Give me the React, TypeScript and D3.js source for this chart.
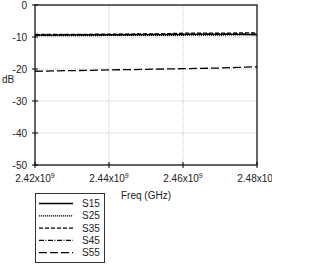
import React from "react";
import * as d3 from "d3";

const freqs = [2.42, 2.425, 2.43, 2.435, 2.44, 2.445, 2.45, 2.455, 2.46, 2.465, 2.47, 2.475, 2.48];
const s15 = [-9.4, -9.4, -9.35, -9.3, -9.3, -9.3, -9.25, -9.25, -9.2, -9.2, -9.2, -9.2, -9.3];
const s25 = [-9.6, -9.6, -9.6, -9.55, -9.5, -9.5, -9.5, -9.45, -9.45, -9.4, -9.4, -9.3, -9.2];
const s35 = [-9.2, -9.2, -9.2, -9.15, -9.1, -9.1, -9.0, -9.0, -8.8, -8.8, -8.8, -8.75, -8.7];
const s45 = [-9.35, -9.35, -9.3, -9.3, -9.25, -9.2, -9.2, -9.15, -9.1, -9.05, -9.0, -9.0, -9.1];
const s55 = [-20.7, -20.6, -20.5, -20.4, -20.3, -20.2, -20.1, -20.0, -19.9, -19.8, -19.7, -19.5, -19.3];
const seriesNames = ["S15", "S25", "S35", "S45", "S55"];
const seriesValues = [s15, s25, s35, s45, s55];
const dashes = ["", "1.2,0.8", "4,2", "5,1.5,1,1.5", "8,3"];
const xTicks = [2.42, 2.44, 2.46, 2.48];
const yTicks = [0, -10, -20, -30, -40, -50];

export default function App() {
  const left = 35, right = 257, top = 5, bottom = 165;
  const x = d3.scaleLinear().domain([2.42, 2.48]).range([left, right]);
  const y = d3.scaleLinear().domain([-50, 0]).range([bottom, top]);
  const line = d3.line<number>().x((_, i) => x(freqs[i])).y((d) => y(d));
  const font = "'Liberation Sans', Arial, sans-serif";
  const tc = "#222";
  return (
    <svg width={326} height={268} style={{ position: "absolute", left: 0, top: 0 }} fontFamily={font}>
      <defs>
        <clipPath id="clipTxt"><rect x={0} y={0} width={272} height={268} /></clipPath>
      </defs>
      <rect width={326} height={268} fill="#fff" />
      {xTicks.slice(1, -1).map((t) => (
        <line key={t} x1={x(t)} x2={x(t)} y1={top} y2={bottom} stroke="#bbb" strokeWidth={0.8} strokeDasharray="1,1" />
      ))}
      {yTicks.slice(1, -1).map((t) => (
        <line key={t} x1={left} x2={right} y1={y(t)} y2={y(t)} stroke="#bbb" strokeWidth={0.8} strokeDasharray="1,1" />
      ))}
      {seriesValues.map((vals, i) => (
        <path key={i} d={line(vals) || ""} fill="none" stroke="#000" strokeWidth={1.3} strokeDasharray={dashes[i]} />
      ))}
      <rect x={left} y={top} width={right - left} height={bottom - top} fill="none" stroke="#000" strokeWidth={1.2} />
      {yTicks.map((t) => (
        <g key={t}>
          <line x1={left - 3} x2={left + 3} y1={y(t)} y2={y(t)} stroke="#000" strokeWidth={1} />
          <text x={27} y={y(t)} dy="0.35em" textAnchor="end" fontSize={10} fill={tc}>{t}</text>
        </g>
      ))}
      <g clipPath="url(#clipTxt)">
        {xTicks.map((t) => (
          <g key={t}>
            <line x1={x(t)} x2={x(t)} y1={bottom - 3} y2={bottom + 3} stroke="#000" strokeWidth={1} />
            <text x={x(t)} y={182} textAnchor="middle" fontSize={10} fill={tc}>
              {t.toFixed(2)}x10<tspan dy={-4} fontSize={7}>9</tspan>
            </text>
          </g>
        ))}
      </g>
      <text x={2} y={83} fontSize={10} fill={tc}>dB</text>
      <text x={146} y={199} textAnchor="middle" fontSize={10} fill={tc}>Freq (GHz)</text>
      <rect x={35.5} y={193.5} width={69} height={69} fill="#fff" stroke="#333" strokeWidth={1} />
      {seriesNames.map((n, i) => {
        const ly = 203.5 + i * 12.3;
        return (
          <g key={n}>
            <line x1={39} x2={73} y1={ly} y2={ly} stroke="#000" strokeWidth={1.3} strokeDasharray={dashes[i]} />
            <text x={82} y={ly} dy="0.35em" fontSize={10} fill={tc}>{n}</text>
          </g>
        );
      })}
    </svg>
  );
}
